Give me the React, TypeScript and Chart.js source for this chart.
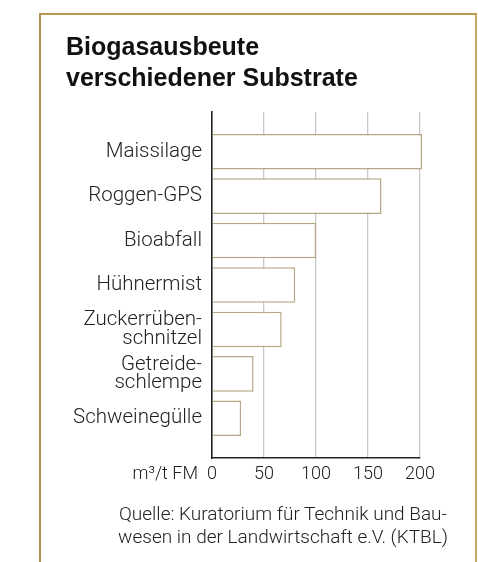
import React, { useEffect, useRef } from "react";
import { Chart, registerables } from "chart.js";

Chart.register(...registerables);

const categories: (string | string[])[] = [
  "Maissilage",
  "Roggen-GPS",
  "Bioabfall",
  "Hühnermist",
  ["Zuckerrüben-", "schnitzel"],
  ["Getreide-", "schlempe"],
  "Schweinegülle",
];
const yieldValues: number[] = [202, 163, 100, 80, 67, 40, 28];
const tickValues: number[] = [0, 50, 100, 150, 200];
const unitLabel = "m³/t FM";
const titleLines = ["Biogasausbeute", "verschiedener Substrate"];
const sourceLines = [
  "Quelle: Kuratorium für Technik und Bau-",
  "wesen in der Landwirtschaft e.V. (KTBL)",
];

const FONT = "Roboto, 'Liberation Sans', Arial, sans-serif";
const TEXT = "#222222";

const unitPlugin = {
  id: "unitLabel",
  afterDraw(chart: any) {
    const x = chart.scales.x;
    const ctx = chart.ctx;
    ctx.save();
    ctx.font = `300 18px ${FONT}`;
    ctx.fillStyle = TEXT;
    ctx.textAlign = "right";
    ctx.textBaseline = "alphabetic";
    ctx.fillText(unitLabel, x.getPixelForValue(0) - 14, x.top + 21);
    ctx.restore();
  },
};

export default function App() {
  const ref = useRef<HTMLCanvasElement | null>(null);

  useEffect(() => {
    document.body.style.margin = "0";
    const canvas = ref.current;
    if (!canvas) return;
    const chart = new Chart(canvas, {
      type: "bar",
      data: {
        labels: categories,
        datasets: [
          {
            data: yieldValues,
            backgroundColor: "#ffffff",
            borderColor: "#b6a887",
            borderWidth: 1.5,
            borderSkipped: "start",
            categoryPercentage: 0.8,
            barPercentage: 1,
            clip: false as any,
          },
        ],
      },
      options: {
        indexAxis: "y",
        animation: false,
        responsive: false,
        devicePixelRatio: 1,
        layout: { padding: { left: 50, right: 58, top: 112, bottom: 74 } },
        plugins: {
          legend: { display: false },
          tooltip: { enabled: false },
          title: { display: false },
        },
        scales: {
          x: {
            type: "linear",
            min: 0,
            max: 200,
            afterBuildTicks: (axis: any) => {
              axis.ticks = tickValues.map((v) => ({ value: v }));
            },
            afterFit: (axis: any) => {
              axis.height = 30;
            },
            grid: {
              drawTicks: false,
              lineWidth: 1.3,
              color: (c: any) => (c.tick && c.tick.value === 0 ? "rgba(0,0,0,0)" : "#c8c8c8"),
            },
            border: { display: true, color: TEXT, width: 1.6, z: 1 },
            ticks: {
              padding: 6,
              color: TEXT,
              font: { family: FONT, size: 18, weight: "300" as any },
              maxRotation: 0,
              autoSkip: false,
            },
          },
          y: {
            type: "category",
            afterBuildTicks: (axis: any) => {
              const pad = 0.394;
              axis._startValue = axis.min - 0.5 - pad;
              axis._valueRange = axis.max - axis.min + 1 + 2 * pad;
            },
            afterFit: (axis: any) => {
              axis.width = 162;
            },
            grid: { display: false, drawTicks: false },
            border: { display: true, color: TEXT, width: 1.6, z: 1 },
            ticks: {
              padding: 10,
              color: TEXT,
              font: { family: FONT, size: 20.5, weight: "300" as any, lineHeight: 0.92 },
              autoSkip: false,
            },
          },
        },
      },
      plugins: [unitPlugin],
    });
    return () => chart.destroy();
  }, []);

  return (
    <div style={{ position: "fixed", left: 0, top: 0, width: 478, height: 562, overflow: "hidden", background: "#fff" }}>
      <div
        style={{
          position: "absolute",
          left: 39,
          top: 13,
          width: 438,
          height: 600,
          border: "2px solid #ad8f4f",
          borderRightColor: "#c9a865",
          borderTopColor: "#b8994f",
          boxSizing: "border-box",
        }}
      />
      <canvas ref={ref} width={478} height={562} style={{ position: "absolute", left: 0, top: 0, width: 478, height: 562 }} />
      <div
        style={{
          position: "absolute",
          left: 66,
          top: 31,
          font: `bold 25px/31px 'Liberation Sans', Arial, sans-serif`,
          color: "#111",
          whiteSpace: "nowrap",
        }}
      >
        {titleLines.map((l, i) => (
          <div key={i}>{l}</div>
        ))}
      </div>
      <div
        style={{
          position: "absolute",
          left: 100,
          width: 366,
          top: 502,
          textAlign: "center",
          font: `300 19px/23px ${FONT}`,
          color: TEXT,
          whiteSpace: "nowrap",
        }}
      >
        {sourceLines.map((l, i) => (
          <div key={i}>{l}</div>
        ))}
      </div>
    </div>
  );
}
